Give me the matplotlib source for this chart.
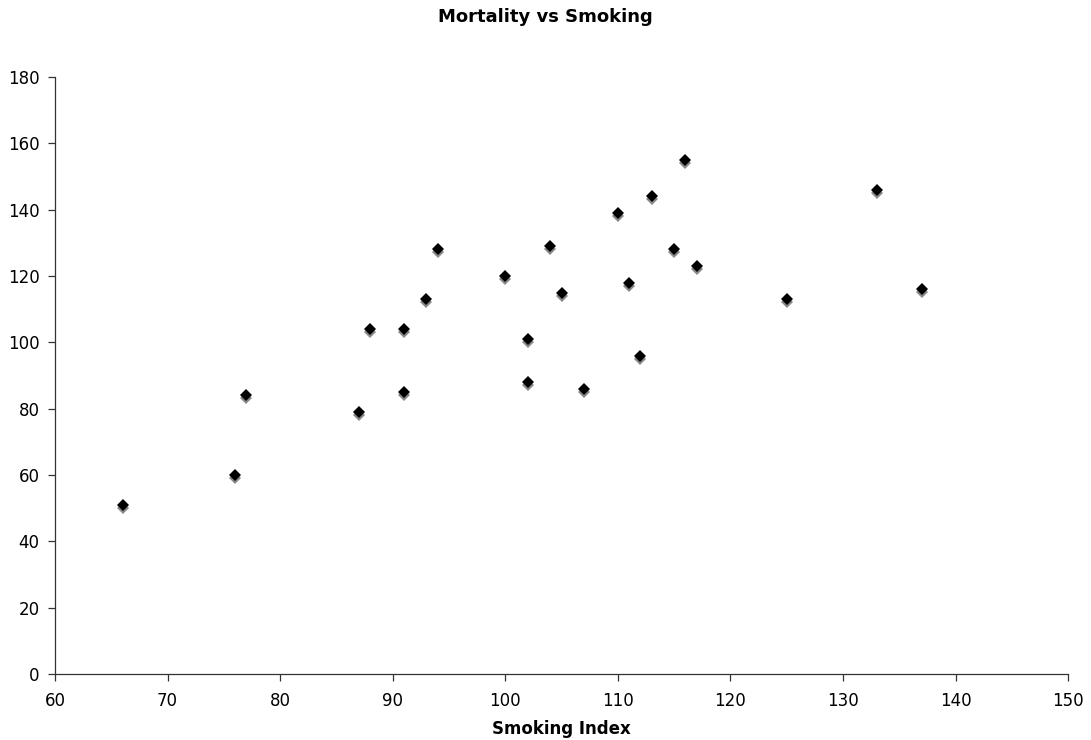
import matplotlib.pyplot as plt
import matplotlib.transforms as mtransforms

# Smoking index vs mortality index (25 occupational groups)
smoking = [77, 137, 117, 94, 116, 102, 111, 93, 88, 102, 91, 104, 107,
           112, 113, 110, 125, 133, 115, 105, 87, 91, 100, 76, 66]
mortality = [84, 116, 123, 128, 155, 101, 118, 113, 104, 88, 104, 129, 86,
             96, 144, 139, 113, 146, 128, 115, 79, 85, 120, 60, 51]

x_ticks = list(range(60, 151, 10))
y_ticks = list(range(0, 181, 20))

plt.rcParams['font.family'] = ['DejaVu Sans']

fig = plt.figure(figsize=(10.91, 7.40), dpi=100)
ax = fig.add_axes([0.0504, 0.0892, 0.9286, 0.8068])

# grey shadow under each marker, shifted a few pixels down
shadow = ax.transData + mtransforms.ScaledTranslation(0, -3 / 100, fig.dpi_scale_trans)
ax.plot(smoking, mortality, linestyle='none', marker='D', markersize=5.8,
        color='#888888', markeredgewidth=0, transform=shadow, zorder=2)
ax.plot(smoking, mortality, linestyle='none', marker='D', markersize=5.8,
        color='black', markeredgewidth=0, zorder=3)

ax.set_xlim(60, 150)
ax.set_ylim(0, 180)
ax.set_xticks(x_ticks)
ax.set_yticks(y_ticks)

for side in ['top', 'right']:
    ax.spines[side].set_visible(False)
for side in ['left', 'bottom']:
    ax.spines[side].set_color('#333333')
    ax.spines[side].set_linewidth(0.9)

ax.tick_params(direction='out', length=5, width=0.9, color='#333333',
               labelsize=12)
ax.tick_params(axis='x', pad=8)
ax.tick_params(axis='y', pad=6)

ax.set_xlabel('Smoking Index', fontsize=12, fontweight='bold', labelpad=7)
fig.text(0.5, 0.977, 'Mortality vs Smoking', ha='center', va='center',
         fontsize=13, fontweight='bold')

fig.savefig('out.png', dpi=100)
